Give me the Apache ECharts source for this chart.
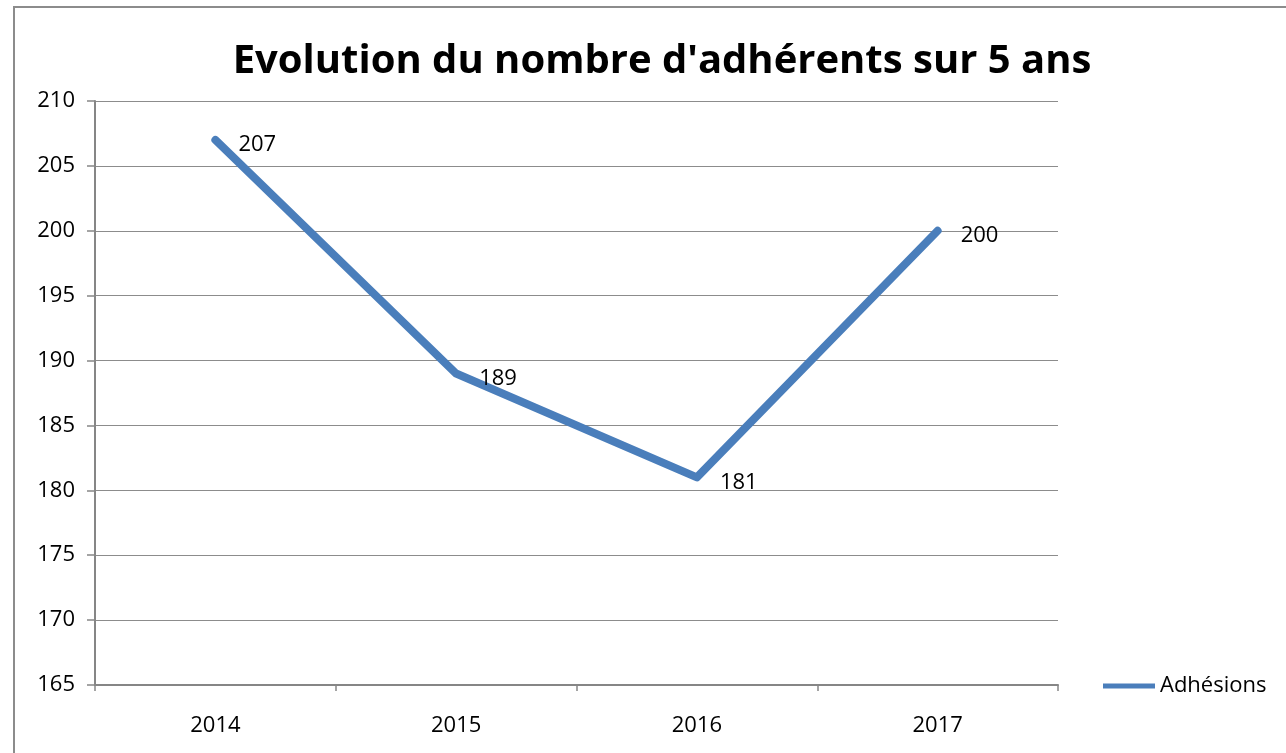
<!DOCTYPE html>
<html>
<head>
<meta charset="utf-8">
<script src="https://cdn.jsdelivr.net/npm/echarts@6/dist/echarts.min.js"></script>
<style>
  html, body { margin: 0; padding: 0; background: #fff; }
  #chart { width: 1286px; height: 753px; }
</style>
</head>
<body>
<div id="chart"></div>
<script>
var years = ['2014', '2015', '2016', '2017'];
var adhesions = [207, 189, 181, 200];
var seriesName = 'Adhésions';
var titleText = "Evolution du nombre d'adhérents sur 5 ans";

var font = '"Open Sans", "Noto Sans", sans-serif';
var chart = echarts.init(document.getElementById('chart'));
chart.setOption({
  animation: false,
  backgroundColor: '#fff',
  textStyle: { fontFamily: font },
  graphic: [{
    type: 'rect',
    shape: { x: 14, y: 7, width: 1300, height: 800 },
    style: { fill: 'none', stroke: '#8c8c8c', lineWidth: 2 }
  }],
  title: {
    text: titleText,
    left: 657,
    textAlign: 'center',
    top: 37,
    textStyle: { fontFamily: font, fontSize: 40, fontWeight: 'bold', color: '#000' }
  },
  legend: {
    data: [seriesName],
    left: 1098,
    top: 670,
    itemWidth: 52,
    itemHeight: 5,
    itemGap: 8,
    icon: 'rect',
    textStyle: { fontFamily: font, fontSize: 22, color: '#000' }
  },
  grid: { left: 95, right: 228, top: 101, bottom: 68 },
  xAxis: {
    type: 'category',
    data: years,
    boundaryGap: true,
    axisLine: { lineStyle: { color: '#868686', width: 2 } },
    axisTick: { show: true, length: 6, lineStyle: { color: '#868686', width: 1.5 } },
    axisLabel: { color: '#000', fontSize: 22, margin: 30, fontFamily: font }
  },
  yAxis: {
    type: 'value',
    min: 165,
    max: 210,
    interval: 5,
    axisLine: { show: true, lineStyle: { color: '#868686', width: 2 } },
    axisTick: { show: true, length: 8, lineStyle: { color: '#868686', width: 1.5 } },
    axisLabel: { color: '#000', fontSize: 22, margin: 20, fontFamily: font },
    splitLine: { lineStyle: { color: '#8c8c8c', width: 1.2 } }
  },
  series: [{
    name: seriesName,
    type: 'line',
    data: adhesions,
    showSymbol: true,
    symbol: 'circle',
    symbolSize: 0.1,
    lineStyle: { color: '#4a7ebb', width: 8, cap: 'round', join: 'round' },
    itemStyle: { color: '#4a7ebb' },
    label: {
      show: true,
      position: 'right',
      distance: 23,
      offset: [0, 5],
      color: '#000',
      fontSize: 22,
      fontFamily: font
    }
  }]
});
</script>
</body>
</html>
